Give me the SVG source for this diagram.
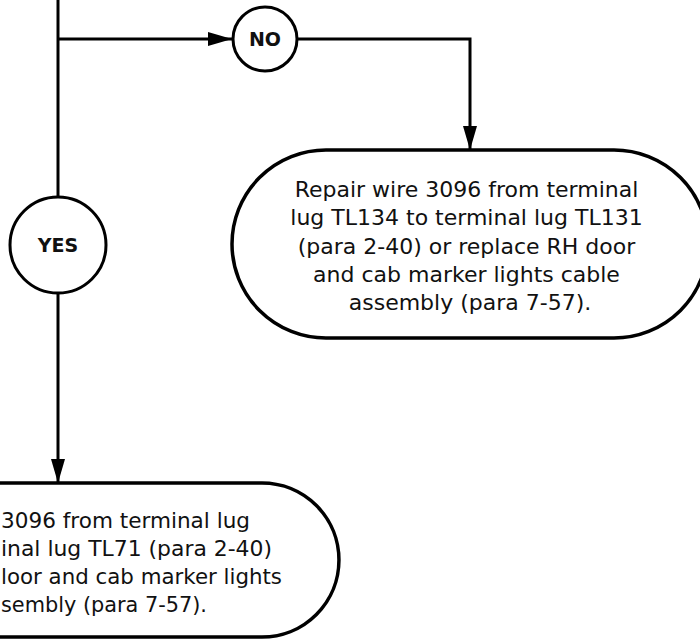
<svg xmlns="http://www.w3.org/2000/svg" width="700" height="642" viewBox="0 0 700 642">
<defs>
<style>
.ln{fill:none;stroke:#000;stroke-width:3}
.node{fill:#fff;stroke:#000;stroke-width:3.5}
.circ{fill:#fff;stroke:#000;stroke-width:3}
.lbl{font-family:"DejaVu Sans",sans-serif;font-weight:bold;font-size:19px;fill:#111;text-anchor:middle}
.txt{font-family:"DejaVu Sans",sans-serif;font-size:22px;fill:#111}
</style>
<marker id="ah" markerWidth="24" markerHeight="14" refX="24" refY="7" orient="auto" markerUnits="userSpaceOnUse">
<path d="M0,0 L24,7 L0,14 Z" fill="#000"/>
</marker>
</defs>
<rect width="700" height="642" fill="#fff"/>
<g id="connectors">
<path class="ln" d="M58,0 V197"/>
<path class="ln" d="M58,39 H232" marker-end="url(#ah)"/>
<path class="ln" d="M297,39 H470 V150" marker-end="url(#ah)"/>
<path class="ln" d="M58,293 V483" marker-end="url(#ah)"/>
</g>
<g id="no">
<circle class="circ" cx="265" cy="39" r="32"/>
<text class="lbl" x="265" y="46">NO</text>
</g>
<g id="yes">
<circle class="circ" cx="58" cy="245" r="48"/>
<text class="lbl" x="58" y="252">YES</text>
</g>
<g id="repair-rh">
<path class="node" d="M326,150 H614 A94,94 0 0 1 614,338 H326 A94,94 0 0 1 326,150 Z"/>
<text class="txt" text-anchor="middle">
<tspan x="470" y="197">Repair wire 3096 from terminal</tspan>
<tspan x="470" y="225.3">lug TL134 to terminal lug TL131</tspan>
<tspan x="470" y="253.5">(para 2-40) or replace RH door</tspan>
<tspan x="470" y="281.8">and cab marker lights cable</tspan>
<tspan x="470" y="310">assembly (para 7-57).</tspan>
</text>
</g>
<g id="repair-lh">
<path class="node" d="M-150,483 H262 A77,77 0 0 1 262,637 H-150 A77,77 0 0 1 -150,483 Z"/>
<text class="txt" x="1" y="528" textLength="249" lengthAdjust="spacingAndGlyphs">3096 from terminal lug</text>
<text class="txt" x="1" y="556" textLength="271" lengthAdjust="spacingAndGlyphs">inal lug TL71 (para 2-40)</text>
<text class="txt" x="1" y="584" textLength="281" lengthAdjust="spacingAndGlyphs">loor and cab marker lights</text>
<text class="txt" x="1" y="612" textLength="206" lengthAdjust="spacingAndGlyphs">sembly (para 7-57).</text>
</g>
</svg>
